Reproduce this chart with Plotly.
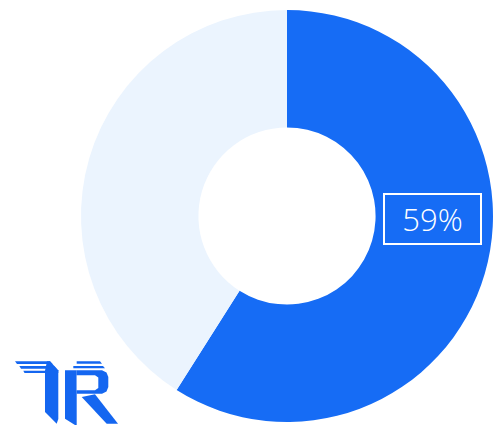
import plotly.graph_objects as go

# Share split shown in the donut
labels = ["Share", "Rest"]
values = [59, 41]
colors = ["#166CF5", "#EBF4FE"]
label_text = "59%"

W, H = 500, 426
ML, MR, MT, MB = 81, 7, 10, 4
PW, PH = W - ML - MR, H - MT - MB


def px(x, y):
    """Convert page pixel coordinates to paper coordinates."""
    return (x - ML) / PW, 1 - (y - MT) / PH


def path(points, close=True):
    parts = []
    for i, (x, y) in enumerate(points):
        u, v = px(x, y)
        parts.append(("M" if i == 0 else "L") + f"{u:.5f},{v:.5f}")
    return " ".join(parts) + (" Z" if close else "")


LOGO = "#1466F0"
# (polygon, fill) pairs for the "TR" mark, drawn in order
logo_polys = [
    # T: three stacked stripes
    ([(15, 361.3), (50, 361.3), (52.5, 364), (17, 364)], LOGO),
    ([(19.3, 366), (54, 366), (56.5, 368.7), (21, 368.7)], LOGO),
    ([(23.3, 370.7), (58.3, 370.7), (58.3, 373), (24.5, 373)], LOGO),
    # T: stem with slanted top corner
    ([(47, 361.3), (50, 361.3), (58.3, 370.3), (58.3, 419), (56.7, 423.7),
      (45, 412), (45, 370.7)], LOGO),
    # R: top stripes
    ([(76.7, 361.3), (100, 361.3), (102, 363.7), (76.7, 363.7)], LOGO),
    ([(73.3, 366), (103, 366), (105, 368.3), (73.3, 368.3)], LOGO),
    # R: stem
    ([(65, 370.3), (76.7, 370.3), (76.7, 425), (75, 425), (65, 418.7)], LOGO),
    # R: bowl
    ([(76.7, 370.3), (102, 370.3), (106.5, 372.5), (108.3, 377), (108.3, 387),
      (106.5, 391.5), (102, 393.7), (76.7, 393.7)], LOGO),
    # R: counter
    ([(76.7, 375.3), (95, 375.3), (98.3, 377.5), (98.3, 388), (95, 390.3),
      (76.7, 390.3)], "white"),
    # R: leg
    ([(81.7, 397), (95, 394.2), (118, 423.7), (106.7, 423.7)], LOGO),
]

fig = go.Figure(
    go.Pie(
        labels=labels,
        values=values,
        hole=0.43,
        sort=False,
        direction="clockwise",
        rotation=0,
        marker=dict(colors=colors, line=dict(width=0)),
        textinfo="none",
        showlegend=False,
    )
)

ax, ay = px(432, 219)
fig.add_annotation(
    x=ax, y=ay, xref="paper", yref="paper",
    text=label_text,
    showarrow=False,
    font=dict(family="Open Sans", size=31, color="white", weight=300),
    bordercolor="white", borderwidth=2, borderpad=0,
    width=95, height=48,
    xanchor="center", yanchor="middle",
)

for poly, fill in logo_polys:
    fig.add_shape(type="path", xref="paper", yref="paper",
                  path=path(poly), fillcolor=fill, line=dict(width=0),
                  layer="above")

fig.update_layout(
    width=W, height=H,
    margin=dict(l=ML, r=MR, t=MT, b=MB),
    paper_bgcolor="white",
    plot_bgcolor="white",
)

fig.write_html("out.html")
